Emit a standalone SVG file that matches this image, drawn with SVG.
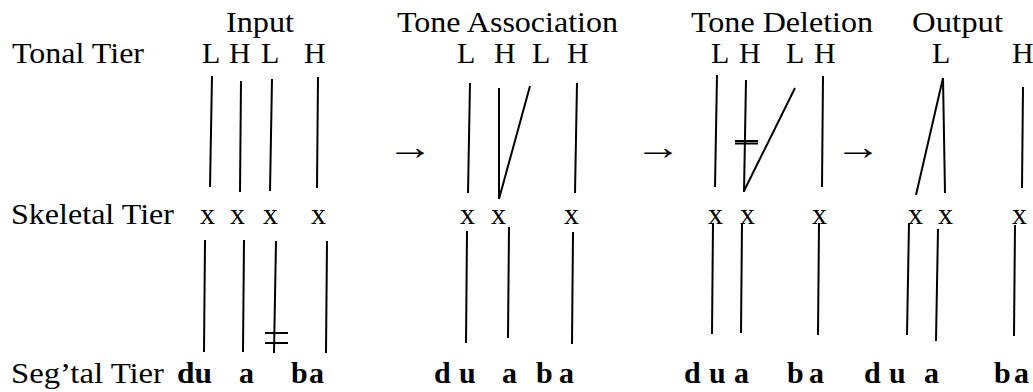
<svg xmlns="http://www.w3.org/2000/svg" width="1033" height="392" viewBox="0 0 1033 392">
<style>
.t{font-family:'Liberation Serif','Times New Roman',Times,'DejaVu Serif',serif;font-size:30px;fill:#000}
.b{font-weight:bold}
.ar{font-size:36px}
line{stroke:#000;stroke-width:2;stroke-linecap:butt}
</style>
<rect width="1033" height="392" fill="#fff"/>
<g class="t">
<g id="labels">
<text x="12" y="63" textLength="132" lengthAdjust="spacingAndGlyphs">Tonal Tier</text>
<text x="11" y="224" textLength="163" lengthAdjust="spacingAndGlyphs">Skeletal Tier</text>
<text x="11" y="383" textLength="153" lengthAdjust="spacingAndGlyphs">Seg’tal Tier</text>
</g>
<g id="input">
<text x="226" y="32" textLength="68" lengthAdjust="spacingAndGlyphs">Input</text>
<text x="202" y="63">L</text><text x="229" y="63">H</text><text x="261" y="63">L</text><text x="304" y="63">H</text>
<text x="200" y="224">x</text><text x="230" y="224">x</text><text x="263" y="224">x</text><text x="311" y="224">x</text>
<text class="b" x="177" y="383" textLength="35" lengthAdjust="spacingAndGlyphs">du</text><text class="b" x="239" y="383">a</text><text class="b" x="291" y="383">b</text><text class="b" x="309" y="383">a</text>
</g>
<g id="association">
<text x="397" y="32" textLength="221" lengthAdjust="spacingAndGlyphs">Tone Association</text>
<text x="457" y="63">L</text><text x="494" y="63">H</text><text x="532" y="63">L</text><text x="567" y="63">H</text>
<text x="460" y="224">x</text><text x="491" y="224">x</text><text x="564" y="224">x</text>
<text class="b" x="434" y="383">d</text><text class="b" x="459" y="383">u</text><text class="b" x="502" y="383">a</text><text class="b" x="536" y="383">b</text><text class="b" x="559" y="383">a</text>
</g>
<g id="deletion">
<text x="691" y="32" textLength="182" lengthAdjust="spacingAndGlyphs">Tone Deletion</text>
<text x="711" y="63">L</text><text x="739" y="63">H</text><text x="786" y="63">L</text><text x="814" y="63">H</text>
<text x="708" y="224">x</text><text x="740" y="224">x</text><text x="812" y="224">x</text>
<text class="b" x="684" y="383">d</text><text class="b" x="709" y="383">u</text><text class="b" x="734" y="383">a</text><text class="b" x="787" y="383">b</text><text class="b" x="809" y="383">a</text>
</g>
<g id="output">
<text x="912" y="32" textLength="91" lengthAdjust="spacingAndGlyphs">Output</text>
<text x="932" y="63">L</text><text x="1012" y="63">H</text>
<text x="908" y="224">x</text><text x="938" y="224">x</text><text x="1012" y="224">x</text>
<text class="b" x="864" y="383">d</text><text class="b" x="889" y="383">u</text><text class="b" x="924" y="383">a</text><text class="b" x="994" y="383">b</text><text class="b" x="1014" y="383">a</text>
</g>
<g id="arrows">
<text class="ar" transform="matrix(1.3,0,0,1,387,159)">→</text>
<text class="ar" transform="matrix(1.3,0,0,1,635,159)">→</text>
<text class="ar" transform="matrix(1.3,0,0,1,835,159)">→</text>
</g>
</g>
<g id="connectors">
<line x1="212" y1="76" x2="210" y2="187"/>
<line x1="241" y1="81" x2="240" y2="192"/>
<line x1="272" y1="79" x2="270" y2="191"/>
<line x1="318" y1="77" x2="317" y2="188"/>
<line x1="205" y1="240" x2="204" y2="352"/>
<line x1="244" y1="240" x2="243" y2="352"/>
<line x1="276" y1="241" x2="274" y2="353"/>
<line x1="265" y1="333" x2="288" y2="333"/>
<line x1="265" y1="343" x2="288" y2="343"/>
<line x1="327" y1="241" x2="326" y2="353"/>
<line x1="470" y1="83" x2="468" y2="193"/>
<line x1="499" y1="88" x2="499" y2="199"/>
<line x1="530" y1="86" x2="499" y2="199"/>
<line x1="577" y1="83" x2="575" y2="193"/>
<line x1="467" y1="231" x2="466" y2="343"/>
<line x1="509" y1="227" x2="508" y2="338"/>
<line x1="573" y1="232" x2="572" y2="344"/>
<line x1="717" y1="75" x2="715" y2="187"/>
<line x1="746" y1="80" x2="744" y2="192"/>
<line x1="795" y1="88" x2="744" y2="191"/>
<line x1="735" y1="141" x2="758" y2="141"/>
<line x1="735" y1="143.5" x2="758" y2="143.5"/>
<line x1="823" y1="76" x2="822" y2="187"/>
<line x1="713" y1="223" x2="712" y2="334"/>
<line x1="742" y1="223" x2="741" y2="333"/>
<line x1="819" y1="223" x2="818" y2="335"/>
<line x1="943" y1="78" x2="916" y2="195"/>
<line x1="943" y1="78" x2="945" y2="193"/>
<line x1="1023" y1="87" x2="1022" y2="188"/>
<line x1="909" y1="223" x2="907" y2="335"/>
<line x1="938" y1="229" x2="936" y2="341"/>
<line x1="1015" y1="225" x2="1014" y2="336"/>
</g>
</svg>
